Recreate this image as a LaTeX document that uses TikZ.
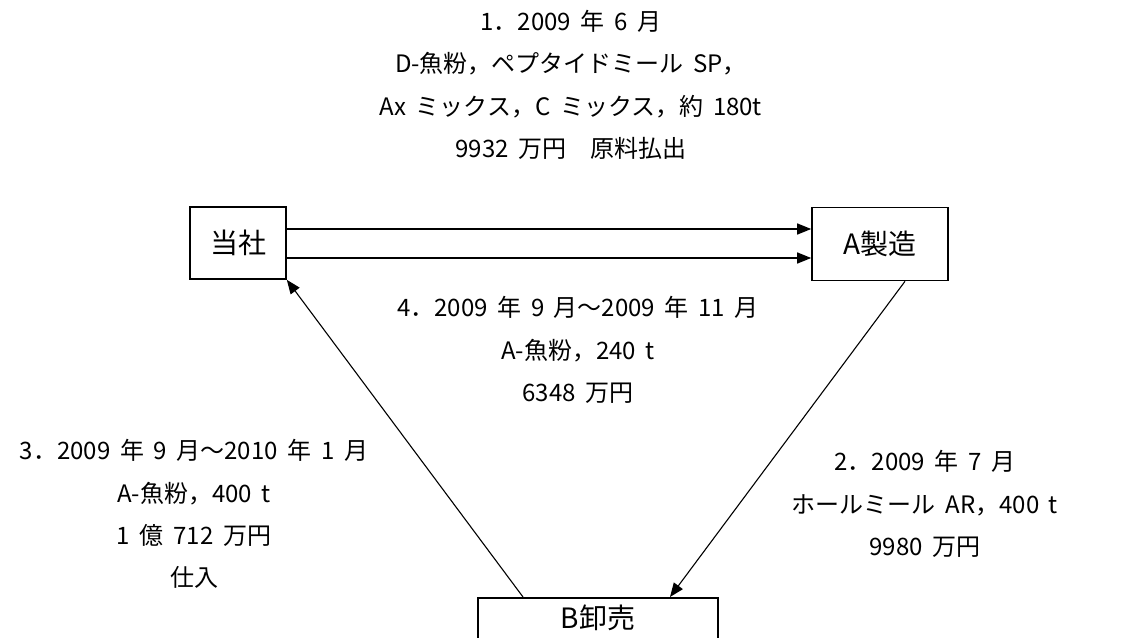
\documentclass[tikz,border=0pt]{standalone}
\usepackage{fontspec}
\setmainfont{Noto Sans CJK JP}
\usetikzlibrary{arrows.meta,calc}
\newcommand\mylblfont{\fontsize{24}{42.3}\selectfont\spaceskip=0.4em plus 0pt minus 0pt\relax}
\begin{document}
\begin{tikzpicture}[x=1pt,y=-1pt,
  box/.style={draw,line width=1.6pt,inner sep=0pt},
  lbl/.style={align=center,font=\mylblfont},
  blbl/.style={font=\fontsize{28}{32}\selectfont},
  arr/.style={line width=1.3pt,-{Triangle[length=14pt,width=11pt]}},
  ln/.style={line width=1.1pt,-{Triangle[length=14pt,width=11pt]}}]
\useasboundingbox (0,0) rectangle (1124,637);
\node[box,minimum width=96pt,minimum height=72pt] (T) at (238,243) {};
\node[blbl] (Tl) at (238,243) {当社};
\node[box,minimum width=136pt,minimum height=73pt] (A) at (880,244) {};
\node[blbl] (Al) at (880,244) {A製造};
\node[box,minimum width=240pt,minimum height=80pt,anchor=north] (B) at (598,597) {};
\node[blbl] (Bl) at (598,618) {B卸売};
\draw[arr] ($(T.east)+(0,-14)$) -- ($(A.west)+(0,-15)$);
\draw[arr] ($(T.east)+(0,15)$) -- ($(A.west)+(0,14)$);
\draw[ln] ($(A.south)+(25,0)$) -- ($(B.north)+(72,0)$);
\draw[ln] ($(B.north)+(-75,0)$) -- (T.south east);
\node[lbl] (t1) at (571,85) {1．2009 年 6 月\\D-魚粉，ペプタイドミール SP，\\Ax ミックス，C ミックス，約 180t\\9932 万円　原料払出};
\node[lbl] (t4) at (578,350) {4．2009 年 9 月～2009 年 11 月\\A-魚粉，240 t\\6348 万円};
\node[lbl] (t3) at (194,514) {3．2009 年 9 月～2010 年 1 月\\A-魚粉，400 t\\1 億 712 万円\\仕入};
\node[lbl] (t2) at (925,504) {2．2009 年 7 月\\ホールミール AR，400 t\\9980 万円};
\end{tikzpicture}
\end{document}
